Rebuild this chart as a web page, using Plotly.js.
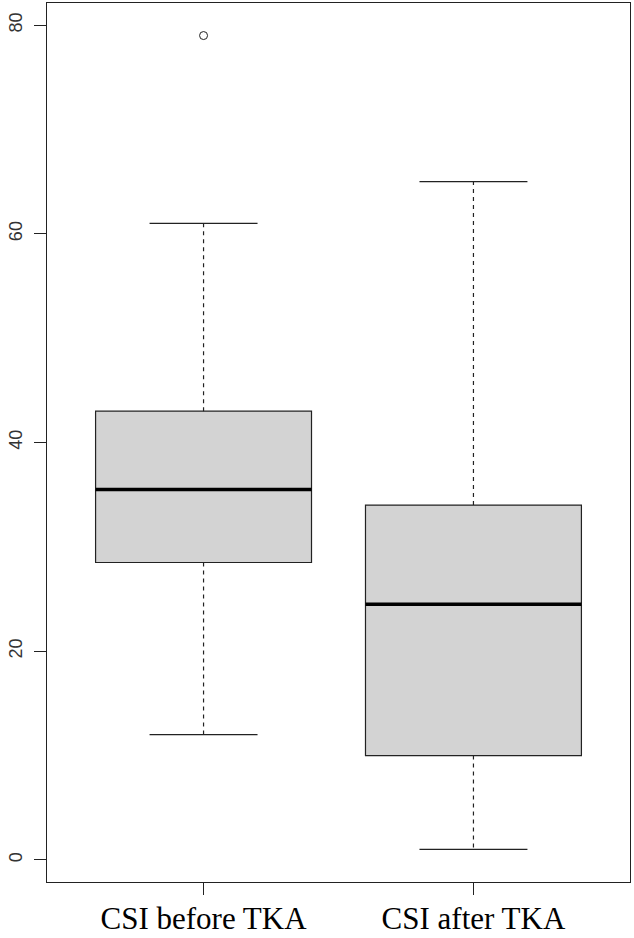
<!DOCTYPE html>
<html>
<head>
<meta charset="utf-8">
<script src="https://cdn.plot.ly/plotly-3.0.1.min.js"></script>
<style>html,body{margin:0;padding:0;background:#fff;}</style>
</head>
<body>
<div id="chart" style="width:634px;height:938px;"></div>
<script>
// Data
const categories = ["CSI before TKA", "CSI after TKA"];
const positions = [1, 2];
const q1 = [28.5, 10];
const medians = [35.5, 24.5];
const q3 = [43, 34];
const lowerWhisker = [12, 1];
const upperWhisker = [61, 65];
const outlierX = [1];
const outlierY = [79];
const yTicks = [0, 20, 40, 60, 80];

const boxWidth = 0.8;
const capHalf = 0.2;

const traces = [];
// Boxes (fill + border)
traces.push({
  type: 'box',
  x: positions,
  q1: q1,
  median: medians,
  q3: q3,
  lowerfence: q1,
  upperfence: q3,
  width: boxWidth,
  fillcolor: '#d3d3d3',
  line: {color: '#222', width: 1.2},
  boxpoints: false,
  hoverinfo: 'skip',
  showlegend: false
});

positions.forEach((p, i) => {
  // thick median
  traces.push({type:'scatter', mode:'lines', x:[p-boxWidth/2, p+boxWidth/2], y:[medians[i], medians[i]],
    line:{color:'#000', width:3.5}, showlegend:false, hoverinfo:'skip'});
  // dashed whiskers
  traces.push({type:'scatter', mode:'lines', x:[p, p], y:[q3[i], upperWhisker[i]],
    line:{color:'#222', width:1.2, dash:'4px,4px'}, showlegend:false, hoverinfo:'skip'});
  traces.push({type:'scatter', mode:'lines', x:[p, p], y:[q1[i], lowerWhisker[i]],
    line:{color:'#222', width:1.2, dash:'4px,4px'}, showlegend:false, hoverinfo:'skip'});
  // caps
  traces.push({type:'scatter', mode:'lines', x:[p-capHalf, p+capHalf], y:[upperWhisker[i], upperWhisker[i]],
    line:{color:'#222', width:1.2}, showlegend:false, hoverinfo:'skip'});
  traces.push({type:'scatter', mode:'lines', x:[p-capHalf, p+capHalf], y:[lowerWhisker[i], lowerWhisker[i]],
    line:{color:'#222', width:1.2}, showlegend:false, hoverinfo:'skip'});
});

// outlier
traces.push({type:'scatter', mode:'markers', x:outlierX, y:outlierY,
  marker:{symbol:'circle-open', size:8, color:'#222', line:{width:1}}, showlegend:false, hoverinfo:'skip'});

const layout = {
  width: 634, height: 938,
  margin: {l:47, r:4, t:3, b:56},
  paper_bgcolor: '#fff', plot_bgcolor: '#fff',
  showlegend: false,
  xaxis: {
    range: [0.42, 2.58],
    tickvals: positions,
    ticktext: categories,
    ticks: 'outside', ticklen: 12, tickcolor: '#222', tickwidth: 1.2,
    ticklabelstandoff: -3,
    showline: true, mirror: true, linecolor: '#222', linewidth: 1.2,
    showgrid: false, zeroline: false,
    tickfont: {family: 'Liberation Serif, Times New Roman, serif', size: 31, color: '#000'}
  },
  yaxis: {
    range: [-2.12, 82.12],
    tickvals: yTicks,
    ticktext: yTicks.map(String),
    ticks: 'outside', ticklen: 12, tickcolor: '#222', tickwidth: 1.2,
    ticklabelstandoff: 5,
    tickangle: -90,
    showline: true, mirror: true, linecolor: '#222', linewidth: 1.2,
    showgrid: false, zeroline: false,
    tickfont: {family: 'Liberation Sans, Arial, sans-serif', size: 18, color: '#333'}
  }
};

Plotly.newPlot('chart', traces, layout, {staticPlot: true, displayModeBar: false});
</script>
</body>
</html>
